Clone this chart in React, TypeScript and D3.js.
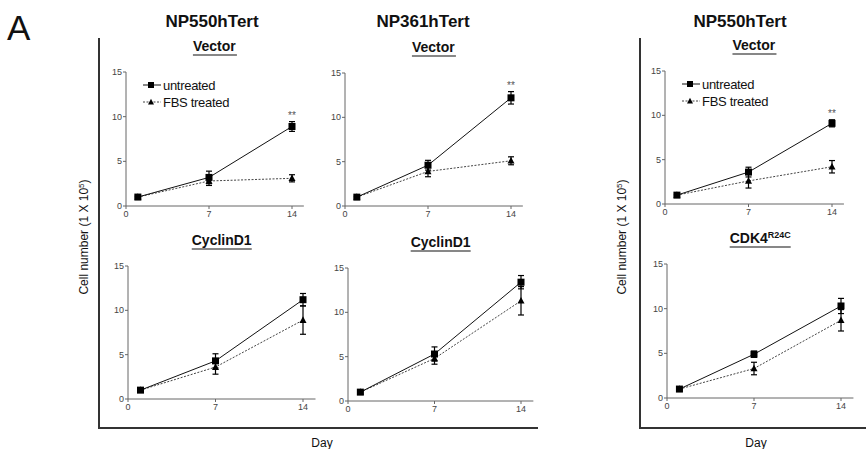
import * as d3 from 'd3';
import React from 'react';

// ---- data (cell number, 1 x 10^5) ----
const days = [1, 7, 14];
const yTicks = [0, 5, 10, 15];
const xTicks = [0, 7, 14];

const np550VecUntreated = [1.0, 3.2, 8.9];
const np550VecUntreatedErr = [0.1, 0.7, 0.55];
const np550VecFbs = [1.0, 2.8, 3.1];
const np550VecFbsErr = [0.1, 0.5, 0.4];

const np361VecUntreated = [1.0, 4.6, 12.2];
const np361VecUntreatedErr = [0.1, 0.55, 0.7];
const np361VecFbs = [1.0, 3.9, 5.1];
const np361VecFbsErr = [0.1, 0.6, 0.45];

const np550bVecUntreated = [1.0, 3.6, 9.1];
const np550bVecUntreatedErr = [0.1, 0.55, 0.4];
const np550bVecFbs = [1.0, 2.6, 4.2];
const np550bVecFbsErr = [0.1, 0.8, 0.7];

const np550CycUntreated = [1.0, 4.3, 11.2];
const np550CycUntreatedErr = [0.1, 0.8, 0.7];
const np550CycFbs = [1.0, 3.6, 8.9];
const np550CycFbsErr = [0.1, 0.8, 1.6];

const np361CycUntreated = [1.0, 5.3, 13.4];
const np361CycUntreatedErr = [0.1, 0.8, 0.75];
const np361CycFbs = [1.0, 4.8, 11.3];
const np361CycFbsErr = [0.1, 0.65, 1.6];

const cdk4Untreated = [1.0, 4.9, 10.3];
const cdk4UntreatedErr = [0.1, 0.35, 0.85];
const cdk4Fbs = [1.0, 3.3, 8.7];
const cdk4FbsErr = [0.1, 0.7, 1.2];

const columnTitles = ['NP550hTert', 'NP361hTert', 'NP550hTert'];

const FONT = 'Liberation Sans, Arial, Helvetica, sans-serif';

// panel layout: pixel box of each small plot
const panels = [
  { x0: 126, x14: 292, y0: 206, y15: 72, title: 'Vector', u: np550VecUntreated, ue: np550VecUntreatedErr, f: np550VecFbs, fe: np550VecFbsErr, legend: true, stars: true },
  { x0: 345, x14: 511, y0: 206, y15: 73, title: 'Vector', u: np361VecUntreated, ue: np361VecUntreatedErr, f: np361VecFbs, fe: np361VecFbsErr, legend: false, stars: true },
  { x0: 665, x14: 832, y0: 204, y15: 71, title: 'Vector', u: np550bVecUntreated, ue: np550bVecUntreatedErr, f: np550bVecFbs, fe: np550bVecFbsErr, legend: true, stars: true },
  { x0: 128, x14: 303, y0: 399, y15: 266, title: 'CyclinD1', u: np550CycUntreated, ue: np550CycUntreatedErr, f: np550CycFbs, fe: np550CycFbsErr, legend: false, stars: false },
  { x0: 348, x14: 521, y0: 401, y15: 268, title: 'CyclinD1', u: np361CycUntreated, ue: np361CycUntreatedErr, f: np361CycFbs, fe: np361CycFbsErr, legend: false, stars: false },
  { x0: 667, x14: 841, y0: 398, y15: 264, title: 'CDK4', sup: 'R24C', u: cdk4Untreated, ue: cdk4UntreatedErr, f: cdk4Fbs, fe: cdk4FbsErr, legend: false, stars: false },
];

const Square = ({ x, y, s = 7 }) => (
  <rect x={x - s / 2} y={y - s / 2} width={s} height={s} fill="#000" />
);
const Triangle = ({ x, y, s = 7 }) => (
  <path
    d={`M${x},${y - s * 0.55} L${x + s / 2},${y + s * 0.4} L${x - s / 2},${y + s * 0.4} Z`}
    fill="#000"
  />
);

const Panel = ({ p }) => {
  const x = d3.scaleLinear().domain([0, 14]).range([p.x0, p.x14]);
  const y = d3.scaleLinear().domain([0, 15]).range([p.y0, p.y15]);
  const xEnd = x(15);
  const line = d3
    .line()
    .x((d) => x(d[0]))
    .y((d) => y(d[1]));

  const series = [
    { vals: p.f, err: p.fe, dash: '2,1.5', color: '#444', marker: 'tri' },
    { vals: p.u, err: p.ue, dash: null, color: '#111', marker: 'sq' },
  ];

  const cx = (p.x0 + xEnd) / 2;
  const titleW = p.sup ? 61 : p.title === 'Vector' ? 44 : 60;

  return (
    <g>
      {/* subtitle */}
      <text
        x={cx - titleW / 2}
        y={p.y15 - 21}
        fontFamily={FONT}
        fontWeight="bold"
        fontSize={14}
        fill="#111"
      >
        {p.title}
        {p.sup && (
          <tspan fontSize={9} dy={-5}>
            {p.sup}
          </tspan>
        )}
      </text>
      <line
        x1={cx - titleW / 2}
        x2={cx + titleW / 2}
        y1={p.y15 - 17}
        y2={p.y15 - 17}
        stroke="#111"
        strokeWidth={1.2}
      />

      {/* axes */}
      <line x1={p.x0} x2={p.x0} y1={p.y0} y2={p.y15} stroke="#666" />
      <line x1={p.x0} x2={xEnd} y1={p.y0} y2={p.y0} stroke="#666" />
      {yTicks.map((t) => (
        <g key={'y' + t}>
          <line x1={p.x0 - 3} x2={p.x0} y1={y(t)} y2={y(t)} stroke="#666" />
          <text
            x={p.x0 - 4}
            y={y(t) + 3}
            textAnchor="end"
            fontFamily={FONT}
            fontSize={9}
            fill="#444"
          >
            {t}
          </text>
        </g>
      ))}
      {xTicks.map((t) => (
        <g key={'x' + t}>
          <line x1={x(t)} x2={x(t)} y1={p.y0} y2={p.y0 + 3} stroke="#666" />
          <text
            x={x(t)}
            y={p.y0 + 11}
            textAnchor="middle"
            fontFamily={FONT}
            fontSize={9}
            fill="#444"
          >
            {t}
          </text>
        </g>
      ))}

      {/* series */}
      {series.map((s, si) => {
        const pts = days.map((d, i) => [d, s.vals[i]]);
        return (
          <g key={si}>
            <path
              d={line(pts)}
              fill="none"
              stroke={s.color}
              strokeWidth={1}
              strokeDasharray={s.dash || undefined}
            />
            {days.map((d, i) => {
              const px = x(d);
              const top = y(s.vals[i] + s.err[i]);
              const bot = y(s.vals[i] - s.err[i]);
              return (
                <g key={i}>
                  <line x1={px} x2={px} y1={top} y2={bot} stroke="#000" strokeWidth={1.2} />
                  <line x1={px - 3} x2={px + 3} y1={top} y2={top} stroke="#000" strokeWidth={1.2} />
                  <line x1={px - 3} x2={px + 3} y1={bot} y2={bot} stroke="#000" strokeWidth={1.2} />
                  {s.marker === 'sq' ? (
                    <Square x={px} y={y(s.vals[i])} />
                  ) : (
                    <Triangle x={px} y={y(s.vals[i])} />
                  )}
                </g>
              );
            })}
          </g>
        );
      })}

      {p.stars && (
        <text
          x={x(14)}
          y={y(p.u[2] + p.ue[2]) - 3}
          textAnchor="middle"
          fontFamily={FONT}
          fontSize={10}
          fill="#555"
        >
          **
        </text>
      )}

      {/* legend */}
      {p.legend && (
        <g>
          <line x1={p.x0 + 17} x2={p.x0 + 35} y1={p.y15 + 13} y2={p.y15 + 13} stroke="#111" />
          <Square x={p.x0 + 25} y={p.y15 + 13} s={6} />
          <text x={p.x0 + 37} y={p.y15 + 17.5} fontFamily={FONT} fontSize={13} fill="#111" letterSpacing={-0.3}>
            untreated
          </text>
          <line
            x1={p.x0 + 17}
            x2={p.x0 + 35}
            y1={p.y15 + 30}
            y2={p.y15 + 30}
            stroke="#444"
            strokeDasharray="2,1.5"
          />
          <Triangle x={p.x0 + 25} y={p.y15 + 30} s={6} />
          <text x={p.x0 + 37} y={p.y15 + 34.5} fontFamily={FONT} fontSize={13} fill="#111" letterSpacing={-0.3}>
            FBS treated
          </text>
        </g>
      )}
    </g>
  );
};

export default function App() {
  const titleX = [212, 423, 740];
  return (
    <svg
      width={866}
      height={449}
      style={{ position: 'absolute', left: 0, top: 0, background: '#fff' }}
    >
      <rect width={866} height={449} fill="#fff" />
      <text x={7} y={40} fontFamily={FONT} fontSize={35} fill="#111">
        A
      </text>
      {columnTitles.map((t, i) => (
        <text
          key={i}
          x={titleX[i]}
          y={27}
          textAnchor="middle"
          fontFamily={FONT}
          fontWeight="bold"
          fontSize={17}
          fill="#111"
        >
          {t}
        </text>
      ))}

      {/* frames */}
      <path d="M99,38 V428 H538" fill="none" stroke="#333" strokeWidth={2} />
      <path d="M640,38 V428 H866" fill="none" stroke="#333" strokeWidth={2} />

      {/* axis titles */}
      {[88, 626].map((tx, i) => (
        <text
          key={i}
          transform={`translate(${tx},237) rotate(-90)`}
          textAnchor="middle"
          fontFamily={FONT}
          fontSize={12}
          fill="#111"
        >
          Cell number (1 X 10
          <tspan fontSize={8} dy={-4}>
            5
          </tspan>
          <tspan dy={4}>)</tspan>
        </text>
      ))}
      {[322, 756].map((tx, i) => (
        <text key={i} x={tx} y={447} textAnchor="middle" fontFamily={FONT} fontSize={12} fill="#111">
          Day
        </text>
      ))}

      {panels.map((p, i) => (
        <Panel key={i} p={p} />
      ))}
    </svg>
  );
}
